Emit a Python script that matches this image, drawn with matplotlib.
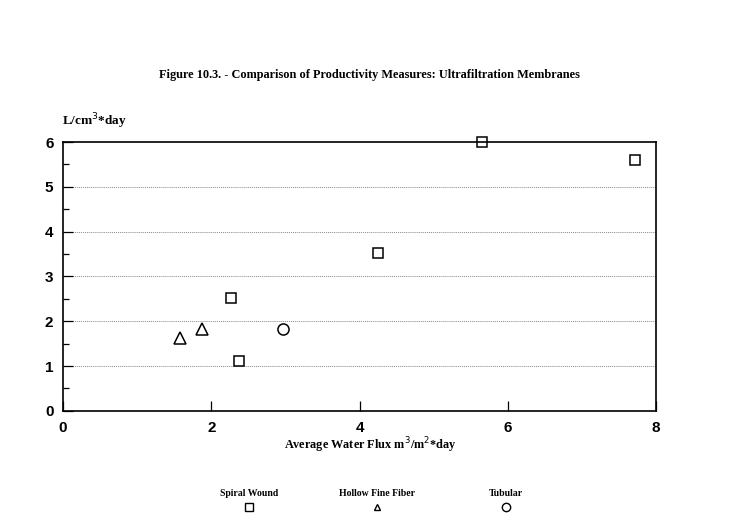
import matplotlib
matplotlib.use("Agg")
import matplotlib.pyplot as plt
from matplotlib.ticker import MultipleLocator

# values
spiral_x = [5.65, 7.72, 4.25, 2.27, 2.37]
spiral_y = [6.0, 5.6, 3.52, 2.52, 1.12]
hollow_x = [1.58, 1.88]
hollow_y = [1.62, 1.83]
tubular_x = [2.97]
tubular_y = [1.82]

series_names = ["Spiral Wound", "Hollow Fine Fiber", "Tubular"]
series_markers = ["s", "^", "o"]

serif = "Liberation Serif"
sans = "Liberation Sans"

fig = plt.figure(figsize=(7.34, 5.24), dpi=100)
ax = fig.add_axes([0.086, 0.216, 0.808, 0.513])

mk = dict(linestyle="none", markerfacecolor="white", markeredgecolor="black",
          markeredgewidth=1.1, clip_on=False)
ax.plot(spiral_x, spiral_y, marker="s", markersize=7.5, **mk)
ax.plot(hollow_x, hollow_y, marker="^", markersize=9, **mk)
ax.plot(tubular_x, tubular_y, marker="o", markersize=8, **mk)

ax.set_xlim(0, 8)
ax.set_ylim(0, 6)
ax.xaxis.set_major_locator(MultipleLocator(2))
ax.yaxis.set_major_locator(MultipleLocator(1))
ax.yaxis.set_minor_locator(MultipleLocator(0.5))
ax.tick_params(axis="both", which="major", direction="in", length=7, width=0.9,
               top=False, right=False, pad=7)
ax.tick_params(axis="y", which="minor", direction="in", length=4, width=0.9)
for lab in ax.get_xticklabels() + ax.get_yticklabels():
    lab.set_fontfamily(sans)
    lab.set_fontweight("bold")
    lab.set_fontsize(11)

for v in range(1, 6):
    ax.axhline(v, color="#888888", linestyle=(0, (1, 1)), linewidth=0.7, zorder=0)

for s in ax.spines.values():
    s.set_linewidth(1.2)

fig.text(0.505, 0.151, "Average Water Flux m$^3$/m$^2$*day", family=serif,
         fontweight="bold", fontsize=8.8, ha="center", va="center")
fig.text(0.085, 0.769, "L/cm$^3$*day", family=serif, fontweight="bold", fontsize=9.5,
         ha="left", va="center")
fig.text(0.503, 0.857, "Figure 10.3. - Comparison of Productivity Measures: Ultrafiltration Membranes",
         family=serif, fontweight="bold", fontsize=8.8, ha="center", va="center")

# legend: label above its marker
lax = fig.add_axes([0, 0, 1, 1], facecolor="none")
lax.set_xlim(0, 734)
lax.set_ylim(524, 0)
lax.axis("off")
leg_x = [249, 377, 506]
for xx, name, m in zip(leg_x, series_names, series_markers):
    lax.text(xx, 494, name, family=serif, fontweight="bold", fontsize=7,
             ha="center", va="center")
    lax.plot([xx], [507], marker=m, markersize=6 if m != "^" else 5,
             linestyle="none", markerfacecolor="white", markeredgecolor="black",
             markeredgewidth=1)

fig.savefig("out.png", dpi=100)
